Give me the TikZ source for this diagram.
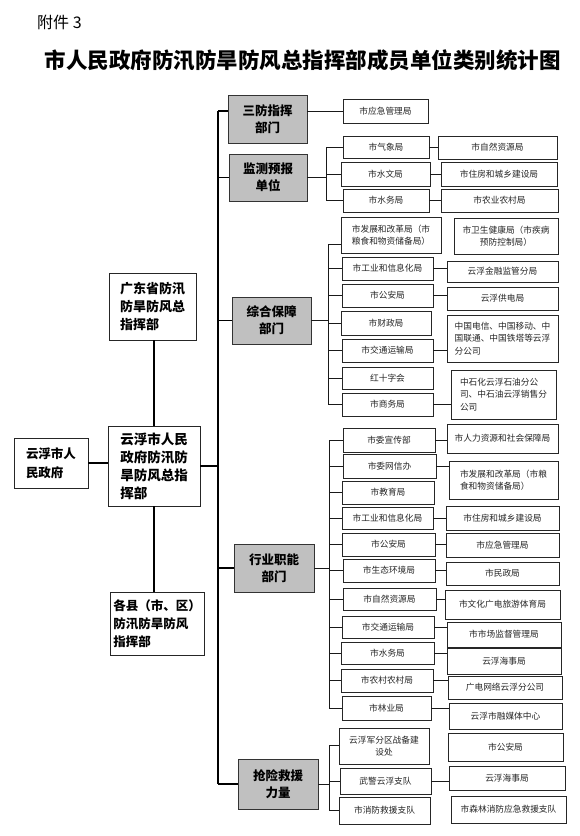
\documentclass[tikz,border=0pt]{standalone}
\usepackage{fontspec}
\newfontfamily\cjk{Noto Sans CJK SC}
\usetikzlibrary{calc}
\definecolor{catgray}{RGB}{192,192,192}
\newcommand\bx[7]{\node[#6,minimum width={#4-#2},minimum height={#5-#3}] (#1) at ({(#2+#4)/2},{(#3+#5)/2}) {#7};}
\begin{document}
\begin{tikzpicture}[x=1pt,y=-1pt,
 lvlzero/.style={draw=black!85,line width=0.8pt,inner sep=0pt,align=left,font=\cjk\bfseries\fontsize{12.5}{18}\selectfont},
 catbox/.style={draw=black!80,fill=catgray,line width=0.8pt,inner sep=0pt,align=center,font=\cjk\bfseries\fontsize{12.5}{17}\selectfont},
 unit/.style={draw=black!85,line width=0.75pt,inner sep=0pt,align=center,font=\cjk\fontsize{8.7}{12.5}\selectfont,text=black!85},
 unitl/.style={unit,align=left},
 conn/.style={line width=0.9pt,draw=black!90},
 trunk/.style={line width=1.3pt,draw=black}]
\useasboundingbox (0,0) rectangle (579,836);
\fill[white] (0,0) rectangle (579,836);
% titles
\node[anchor=west,inner sep=0pt,font=\cjk\fontsize{16}{18}\selectfont] (att) at (37,22) {附件 3};
\node[inner sep=0pt,font=\cjk\bfseries\fontsize{21.5}{26}\selectfont] (title) at (303,60) {市人民政府防汛防旱防风总指挥部成员单位类别统计图};
% left level
\bx{gov}{14}{438}{88}{488}{lvlzero,font=\cjk\bfseries\fontsize{12.5}{19}\selectfont}{云浮市人\\民政府}
\bx{hq}{108}{426}{200}{506}{lvlzero,font=\cjk\bfseries\fontsize{13.5}{18}\selectfont}{云浮市人民\\政府防汛防\\旱防风总指\\挥部}
\bx{gd}{109}{273}{196}{340}{lvlzero,font=\cjk\bfseries\fontsize{13}{18}\selectfont}{广东省防汛\\防旱防风总\\指挥部}
\bx{cty}{110}{592}{204}{655}{lvlzero}{各县（市、区）\\防汛防旱防风\\指挥部}
% category boxes
\bx{sf}{228}{95}{307}{143}{catbox}{三防指挥\\部门}
\bx{jc}{229}{154}{307}{201}{catbox}{监测预报\\单位}
\bx{zh}{232}{297}{311}{344}{catbox}{综合保障\\部门}
\bx{hy}{234}{544}{314}{592}{catbox}{行业职能\\部门}
\bx{qx}{238}{759}{318}{809}{catbox}{抢险救援\\力量}
% sanfang
\bx{sf1}{343}{99}{428}{123}{unit}{市应急管理局}
% jiance
\bx{jc1}{343}{136}{429}{158}{unit}{市气象局}
\bx{jc2}{341}{162}{430}{186}{unit}{市水文局}
\bx{jc3}{343}{189}{429}{212}{unit}{市水务局}
\bx{jr1}{438}{136}{557}{159}{unit}{市自然资源局}
\bx{jr2}{441}{162}{557}{186}{unit}{市住房和城乡建设局}
\bx{jr3}{441}{189}{558}{212}{unit}{市农业农村局}
% zonghe
\bx{zh1}{341}{217}{441}{253}{unitl}{市发展和改革局（市\\粮食和物资储备局）}
\bx{zh2}{342}{257}{433}{280}{unit}{市工业和信息化局}
\bx{zh3}{342}{284}{433}{307}{unit}{市公安局}
\bx{zh4}{341}{311}{431}{335}{unit}{市财政局}
\bx{zh5}{342}{339}{433}{362}{unit}{市交通运输局}
\bx{zh6}{342}{367}{433}{389}{unit}{红十字会}
\bx{zh7}{342}{393}{433}{416}{unit}{市商务局}
\bx{zr1}{454}{218}{558}{254}{unit}{市卫生健康局（市疾病\\预防控制局）}
\bx{zr2}{447}{261}{558}{282}{unit}{云浮金融监管分局}
\bx{zr3}{447}{287}{558}{310}{unit}{云浮供电局}
\bx{zr4}{447}{315}{558}{362}{unitl}{中国电信、中国移动、中\\国联通、中国铁塔等云浮\\分公司}
\bx{zr5}{451}{370}{556}{419}{unitl}{中石化云浮石油分公\\司、中石油云浮销售分\\公司}
% hangye
\bx{hy1}{343}{428}{435}{452}{unit}{市委宣传部}
\bx{hy2}{343}{454}{436}{478}{unit}{市委网信办}
\bx{hy3}{342}{481}{434}{504}{unit}{市教育局}
\bx{hy4}{342}{507}{433}{529}{unit}{市工业和信息化局}
\bx{hy5}{342}{533}{435}{556}{unit}{市公安局}
\bx{hy6}{343}{559}{435}{582}{unit}{市生态环境局}
\bx{hy7}{343}{588}{436}{610}{unit}{市自然资源局}
\bx{hy8}{342}{616}{434}{638}{unit}{市交通运输局}
\bx{hy9}{341}{642}{434}{664}{unit}{市水务局}
\bx{hy10}{341}{669}{433}{692}{unit}{市农村农村局}
\bx{hy11}{342}{696}{431}{720}{unit}{市林业局}
\bx{hr1}{447}{424}{558}{453}{unit}{市人力资源和社会保障局}
\bx{hr2}{449}{461}{558}{499}{unitl}{市发展和改革局（市粮\\食和物资储备局）}
\bx{hr3}{446}{506}{559}{530}{unit}{市住房和城乡建设局}
\bx{hr4}{446}{533}{559}{557}{unit}{市应急管理局}
\bx{hr5}{446}{562}{559}{585}{unit}{市民政局}
\bx{hr6}{445}{590}{560}{619}{unit}{市文化广电旅游体育局}
\bx{hr7}{447}{622}{561}{647}{unit}{市市场监督管理局}
\bx{hr8}{447}{648}{561}{674}{unit}{云浮海事局}
\bx{hr9}{448}{676}{562}{699}{unit}{广电网络云浮分公司}
\bx{hr10}{449}{703}{562}{729}{unit}{云浮市融媒体中心}
% qiangxian
\bx{qx1}{339}{728}{429}{764}{unit}{云浮军分区战备建\\设处}
\bx{qx2}{340}{768}{431}{794}{unit}{武警云浮支队}
\bx{qx3}{339}{797}{430}{824}{unit}{市消防救援支队}
\bx{qr1}{448}{733}{563}{761}{unit}{市公安局}
\bx{qr2}{449}{766}{565}{790}{unit}{云浮海事局}
\bx{qr3}{451}{796}{566}{823}{unit}{市森林消防应急救援支队}
% ---- connectors ----
\coordinate (tr) at (218,0);
\coordinate (sfin) at ($(sf.west)+(0,-8)$);
\draw[trunk] (sfin -| tr) -- (qx.west -| tr);
\draw[trunk] (sfin -| tr) -- (sfin);
\foreach \n in {jc,zh,hy,qx} \draw[trunk] (tr |- \n.west) -- (\n.west);
\draw[trunk] (hq.east) -- (hq.east -| tr);
\draw[trunk] (gov.east) -- (gov.east -| hq.west);
\draw[trunk] (gd.south -| hq.north) -- (hq.north);
\draw[trunk] (hq.south) -- (hq.south |- cty.north);
% sanfang
\draw[conn] (sf.east |- sf1.west) -- (sf1.west);
% jiance bus
\coordinate (bj) at (326,0);
\draw[conn] (jc1.west) -| (bj |- jc3.west) -- (jc3.west);
\draw[conn] (jc.east) -- (jc.east -| bj);
\draw[conn] (bj |- jc2.west) -- (jc2.west);
\draw[conn] (jc1.east) -- (jc1.east -| jr1.west);
\draw[conn] (jc2.east) -- (jc2.east -| jr2.west);
\draw[conn] (jc3.east) -- (jc3.east -| jr3.west);
% zonghe bus
\coordinate (bz) at (328,0);
\draw[conn] ($(zh1.west)+(0,9)$) -| (bz |- zh7.west) -- (zh7.west);
\draw[conn] (zh.east) -- (zh.east -| bz);
\foreach \n in {zh2,zh3,zh4,zh5,zh6} \draw[conn] (bz |- \n.west) -- (\n.west);
\draw[conn] ($(zh1.east)+(0,6)$) -- ($(zh1.east)+(0,6)$ -| zr1.west);
\draw[conn] (zh2.east) -- (zh2.east -| zr2.west);
\draw[conn] (zh3.east) -- (zh3.east -| zr3.west);
\draw[conn] (zh5.east) -- (zh5.east -| zr4.west);
\draw[conn] (zh7.east) -- (zh7.east -| zr5.west);
% hangye bus
\coordinate (bh) at (329,0);
\draw[conn] (hy1.west) -| (bh |- hy11.west) -- (hy11.west);
\draw[conn] (hy.east) -- (hy.east -| bh);
\foreach \n in {hy2,hy3,hy4,hy5,hy6,hy7,hy8,hy9,hy10} \draw[conn] (bh |- \n.west) -- (\n.west);
\draw[conn] (hy1.east) -- (hy1.east -| hr1.west);
\draw[conn] (hy2.east) -- (hy2.east -| hr2.west);
\draw[conn] (hy4.east) -- (hy4.east -| hr3.west);
\draw[conn] (hy5.east) -- (hy5.east -| hr4.west);
\draw[conn] (hy6.east) -- (hy6.east -| hr5.west);
\draw[conn] (hy7.east) -- (hy7.east -| hr6.west);
\draw[conn] (hy8.east) -- (hy8.east -| hr7.west);
\draw[conn] (hy9.east) -- (hy9.east -| hr8.west);
\draw[conn] (hy10.east) -- (hy10.east -| hr9.west);
\draw[conn] (hy11.east) -- (hy11.east -| hr10.west);
% qiangxian bus
\coordinate (bq) at (329,0);
\draw[conn] ($(qx1.west)+(0,-1)$) -| (bq |- qx3.west) -- (qx3.west);
\draw[conn] (qx.east) -- (qx.east -| bq);
\draw[conn] (bq |- qx2.west) -- (qx2.west);
\draw[conn] ($(qx1.east)+(0,-2)$) -- ($(qx1.east)+(0,-2)$ -| qr1.west);
\draw[conn] (qx2.east) -- (qx2.east -| qr2.west);
\draw[conn] ($(qx3.east)+(0,3)$) -- ($(qx3.east)+(0,3)$ -| qr3.west);
\end{tikzpicture}
\end{document}
